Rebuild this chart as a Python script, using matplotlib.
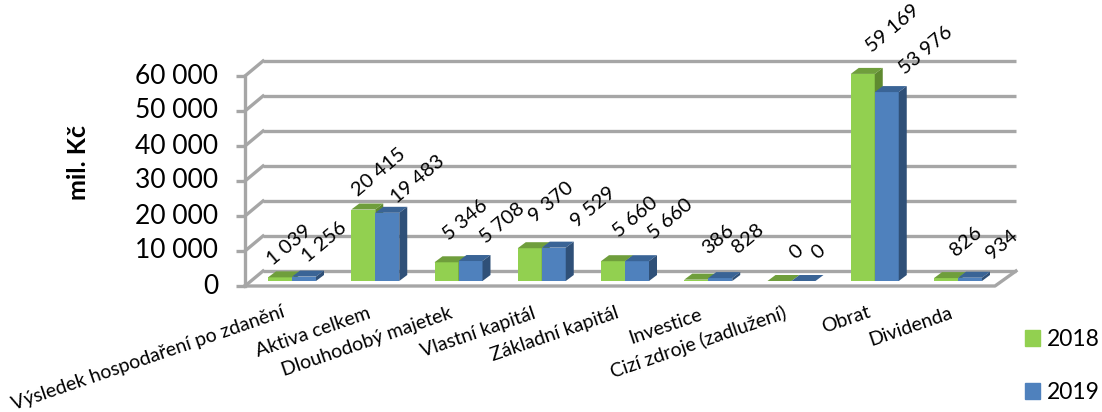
import matplotlib
matplotlib.use('Agg')
import matplotlib.pyplot as plt
from matplotlib.patches import Polygon, Patch

categories = ['Výsledek hospodaření po zdanění', 'Aktiva celkem', 'Dlouhodobý majetek', 'Vlastní kapitál',
              'Základní kapitál', 'Investice', 'Cizí zdroje (zadlužení)', 'Obrat', 'Dividenda']
values_2018 = [1039, 20415, 5346, 9370, 5660, 386, 0, 59169, 826]
values_2019 = [1256, 19483, 5708, 9529, 5660, 828, 0, 53976, 934]
yticks = [0, 10000, 20000, 30000, 40000, 50000, 60000]

# label offsets from the top of each bar, in pixels
offs_2018 = [(9, 32), (16, 37), (19, 42), (22, 46), (22, 44), (22, 40), (17, 29), (30, 46), (20, 37)]
offs_2019 = [(20, 35), (31, 33), (32, 38), (40, 41), (33, 42), (28, 40), (15, 29), (39, 42), (32, 33)]
cat_centers = [(148, 358), (313, 332), (367, 342), (478, 332), (555, 334), (666, 326), (698, 342), (846, 320), (911, 327)]

W, H = 1102, 412
X0, STEP = 292, 83.25      # pixel of the first category, pixels per category
Y0, SCALE = 281, 0.0035    # pixel of value 0, pixels per unit

plt.rcParams['font.family'] = ['Lato', 'DejaVu Sans']
fig = plt.figure(figsize=(W / 100, H / 100), dpi=100)
ax = fig.add_axes([0, 0, 1, 1])
ax.set_xlim(-X0 / STEP, (W - X0) / STEP)
ax.set_ylim((Y0 - H) / SCALE, Y0 / SCALE)
ax.axis('off')

def px_x(p):
	return (p - X0) / STEP

def px_h(p):
	return p / SCALE

# walls and floor
wall = '#a6a6a6'
back = px_h(10)
front = px_h(-5)
for v in yticks:
	ax.plot([px_x(263), px_x(1016)], [v + back, v + back], color=wall, lw=2.4, zorder=1, solid_capstyle='butt')
	ax.plot([px_x(245), px_x(263)], [v + front, v + back], color=wall, lw=2.4, zorder=1)
	ax.plot([px_x(236), px_x(245)], [v + front, v + front], color=wall, lw=2.4, zorder=1, solid_capstyle='butt')
	ax.text(px_x(218), v + front, f'{v:,}'.replace(',', ' '), ha='right', va='center', fontsize=19)
ax.plot([px_x(245), px_x(245)], [front, yticks[-1] + front], color=wall, lw=2.4, zorder=1)
ax.plot([px_x(245), px_x(995), px_x(1016)], [front, front, back], color=wall, lw=2.4, zorder=1)

def draw_series(vals, shift, col, top_col, side_col, offs, z):
	dx = px_x(8 + X0)
	dy = px_h(6)
	w = 24 / STEP
	for i, v in enumerate(vals):
		x0 = i + shift - w
		x1 = i + shift
		ax.bar(x0, v, width=w, align='edge', color=col, zorder=z)
		ax.add_patch(Polygon([(x0, v), (x1, v), (x1 + dx, v + dy), (x0 + dx, v + dy)], closed=True, fc=top_col, ec='none', zorder=z))
		ax.add_patch(Polygon([(x1, 0), (x1 + dx, dy), (x1 + dx, v + dy), (x1, v)], closed=True, fc=side_col, ec='none', zorder=z))
		lx = i + shift - w / 2 + px_x(offs[i][0] + X0)
		ly = v + px_h(offs[i][1])
		ax.text(lx, ly, f'{v:,}'.replace(',', ' '), rotation=40, rotation_mode='anchor', ha='center', va='center', fontsize=14.5, zorder=6)

draw_series(values_2018, 0, '#92d050', '#6f9e3c', '#5f8a30', offs_2018, 3)
draw_series(values_2019, 24 / STEP, '#4f81bd', '#3a6496', '#2f5078', offs_2019, 4)

for name, c in zip(categories, cat_centers):
	ax.text(px_x(c[0]), (Y0 - c[1]) / SCALE, name, rotation=19, rotation_mode='anchor', ha='center', va='center', fontsize=14)

ax.text(px_x(78), (Y0 - 163) / SCALE, 'mil. Kč', rotation=90, ha='center', va='center', fontsize=18, fontweight='bold')

handles = [Patch(color='#92d050', label='2018'), Patch(color='#4f81bd', label='2019')]
ax.legend(handles=handles, loc='upper left', bbox_to_anchor=(1025 / W, 1 - 329 / H), frameon=False, fontsize=16.5,
          handlelength=0.65, handleheight=0.65, handletextpad=0.3, labelspacing=1.4, borderpad=0, borderaxespad=0)

fig.savefig('out.png', dpi=100)
